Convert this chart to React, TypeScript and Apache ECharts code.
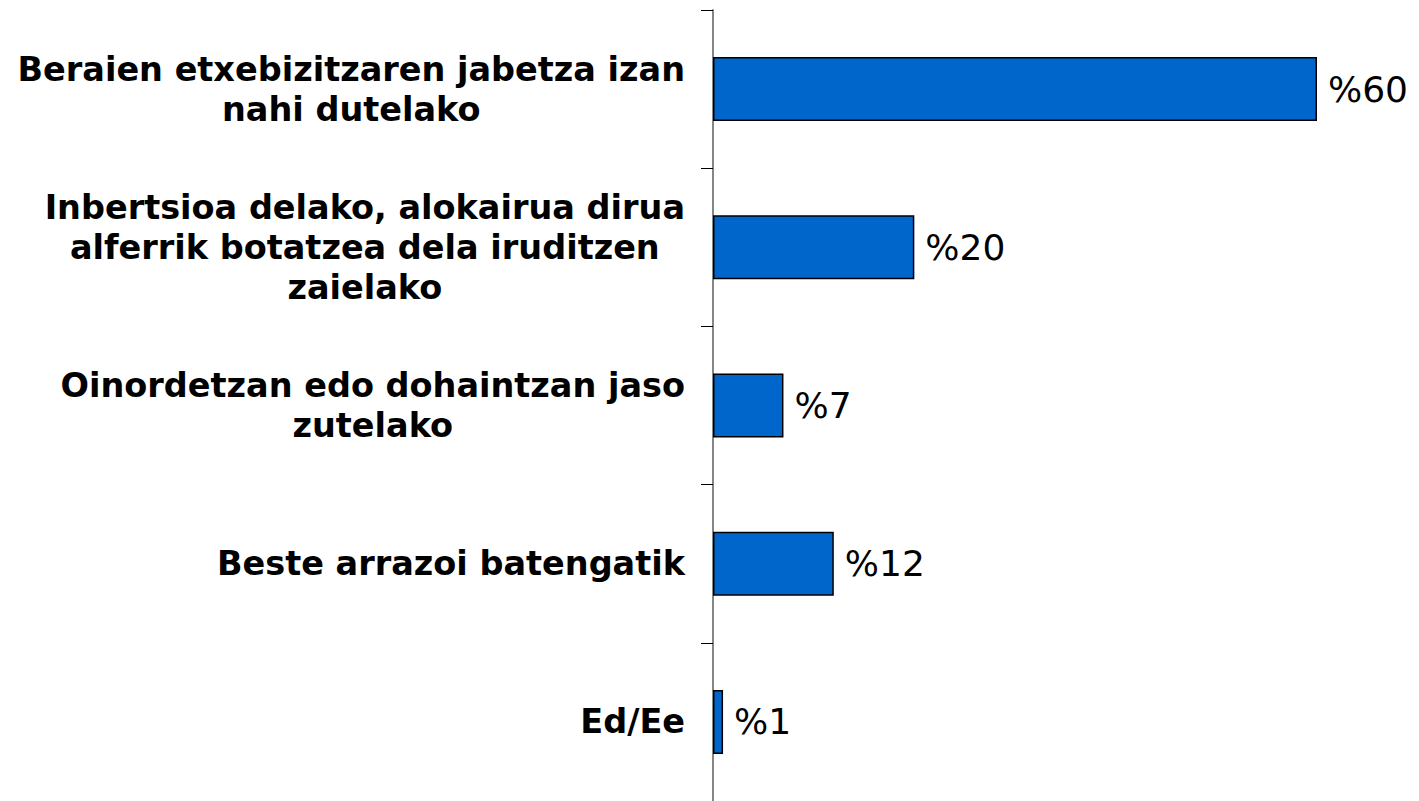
import React, { useEffect, useRef } from "react";
import * as echarts from "echarts";

const categories: string[] = [
  "Beraien etxebizitzaren jabetza izan\nnahi dutelako",
  "Inbertsioa delako, alokairua dirua\nalferrik botatzea dela iruditzen\nzaielako",
  "Oinordetzan edo dohaintzan jaso\nzutelako",
  "Beste arrazoi batengatik",
  "Ed/Ee",
];
const values: number[] = [60, 20, 7, 12, 1];
const valuePrefix = "%";

export default function App() {
  const ref = useRef<HTMLDivElement>(null);
  useEffect(() => {
    if (!ref.current) return;
    const chart = echarts.init(ref.current, null, { renderer: "svg" });
    const labelFont = "Verdana, 'DejaVu Sans', sans-serif";
    chart.setOption({
      animation: false,
      backgroundColor: "#ffffff",
      grid: { left: 713, right: 102, top: 10, bottom: -3, containLabel: false },
      xAxis: {
        type: "value",
        min: 0,
        max: 60,
        show: false,
        splitLine: { show: false },
      },
      yAxis: {
        type: "category",
        inverse: true,
        data: categories,
        axisLine: { show: true, lineStyle: { color: "#868686", width: 2 } },
        axisTick: { show: true, length: 12, lineStyle: { color: "#000000", width: 1 } },
        axisLabel: {
          margin: 28,
          align: "right",
          formatter: (v: string) =>
            v
              .split("\n")
              .map((l) => `{c|${l}}`)
              .join("\n"),
          rich: {
            c: {
              align: "center",
              fontFamily: labelFont,
              fontWeight: "bold",
              fontSize: 33.5,
              lineHeight: 40,
              color: "#000000",
            },
          },
        },
      },
      series: [
        {
          type: "bar",
          data: values,
          barWidth: 64,
          itemStyle: { color: "#0066CC", borderColor: "#000000", borderWidth: 1.5 },
          label: {
            show: true,
            position: "right",
            distance: 11,
            formatter: (p: any) => `${valuePrefix}${p.value}`,
            fontFamily: labelFont,
            fontSize: 36,
            color: "#000000",
          },
        },
      ],
    });
    return () => chart.dispose();
  }, []);
  return (
    <div
      ref={ref}
      style={{ position: "absolute", left: 0, top: 0, width: 1419, height: 801 }}
    />
  );
}
